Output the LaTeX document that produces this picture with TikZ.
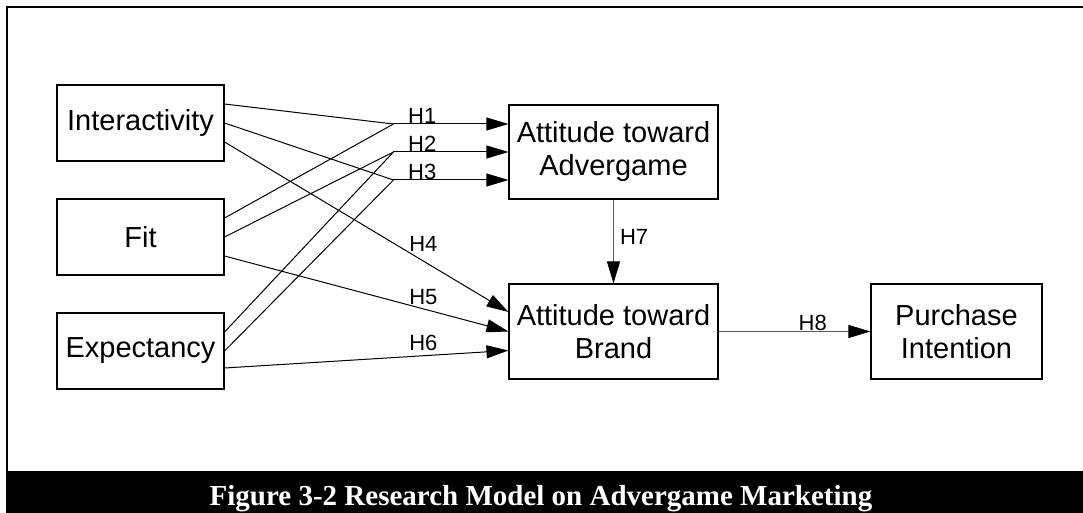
\documentclass[tikz,border=0pt]{standalone}
\usepackage{fontspec}
\setmainfont{Liberation Sans}
\newfontfamily\capfont{Liberation Serif}
\usetikzlibrary{positioning,arrows.meta,calc}

\begin{document}
\begin{tikzpicture}[x=0.5pt,y=-0.5pt,on grid,node distance=57pt,
    var/.style={draw,line width=0.55pt,minimum width=83.5pt,minimum height=38pt,
      inner sep=0pt,align=center,font=\fontsize{14.5}{16.5}\selectfont},
    hyp/.style={font=\fontsize{11}{13}\selectfont,inner sep=0pt},
    link/.style={line width=0.5pt},
    >={Triangle[length=11pt,width=6.5pt,color=black]}]
   \useasboundingbox (0,0) rectangle (1083,513);
   % frame and caption bar
   \fill[black] (6,471) rectangle (1083,513);
   \draw[line width=1.25pt] (7,471) -- (7,7) -- (1083,7);
   \node[text=white,font=\capfont\bfseries\fontsize{14.5}{17}\selectfont,anchor=base] (cap) at (541,506)
      {Figure 3-2 Research Model on Advergame Marketing};

   \node[var] (int) at (140.5,123) {Interactivity};
   \node[var] (fit) [below=of int] {Fit};
   \node[var] (exp) [below=of fit] {Expectancy};
   \node[var,minimum width=104.5pt,minimum height=47pt] (adv) at (613.5,152) {Attitude toward\\Advergame};
   \node[var,minimum width=104.5pt,minimum height=47.5pt] (brd) [below=89.75pt of adv] {Attitude toward\\Brand};
   \node[var,minimum width=85.5pt,minimum height=47.5pt] (pur) [right=171.5pt of brd] {Purchase\\Intention};

   \coordinate (j1) at ($(adv.west)+(-115,-28)$);
   \coordinate (j2) at ($(adv.west)+(-115,0)$);
   \coordinate (j3) at ($(adv.west)+(-115,28)$);

   % H1 - H3
   \draw[link] ($(int.east)+(0,-19)$) -- (j1);
   \draw[link] ($(fit.east)+(0,-19)$) -- (j1);
   \draw[link,->] (j1) -- node[hyp,above,pos=0.25] {H1} ($(adv.west)+(0,-28)$);
   \draw[link] (fit.east) -- (j2);
   \draw[link] ($(exp.east)+(0,-19)$) -- (j2);
   \draw[link,->] (j2) -- node[hyp,above,pos=0.25] {H2} (adv.west);
   \draw[link] (int.east) -- (j3);
   \draw[link] (exp.east) -- (j3);
   \draw[link,->] (j3) -- node[hyp,above,pos=0.25] {H3} ($(adv.west)+(0,28)$);

   % H4 - H6
   \draw[link,->] ($(int.east)+(0,19)$) -- node[hyp,pos=0.649,anchor=south west] {H4} ($(brd.west)+(0,-19.5)$);
   \draw[link,->] ($(fit.east)+(0,19)$) -- node[hyp,pos=0.649,anchor=south west] {H5} (brd.west);
   \draw[link,->] ($(exp.east)+(0,17)$) -- node[hyp,pos=0.649,anchor=south west,yshift=2.5pt] {H6} ($(brd.west)+(0,19)$);

   % H7, H8
   \draw[link,->,draw=black!65] (adv.south) -- node[hyp,right,xshift=3pt,pos=0.44] {H7} (brd.north);
   \draw[link,->,draw=black!65] (brd.east) -- node[hyp,above,pos=0.62] {H8} (pur.west);
\end{tikzpicture}
\end{document}
